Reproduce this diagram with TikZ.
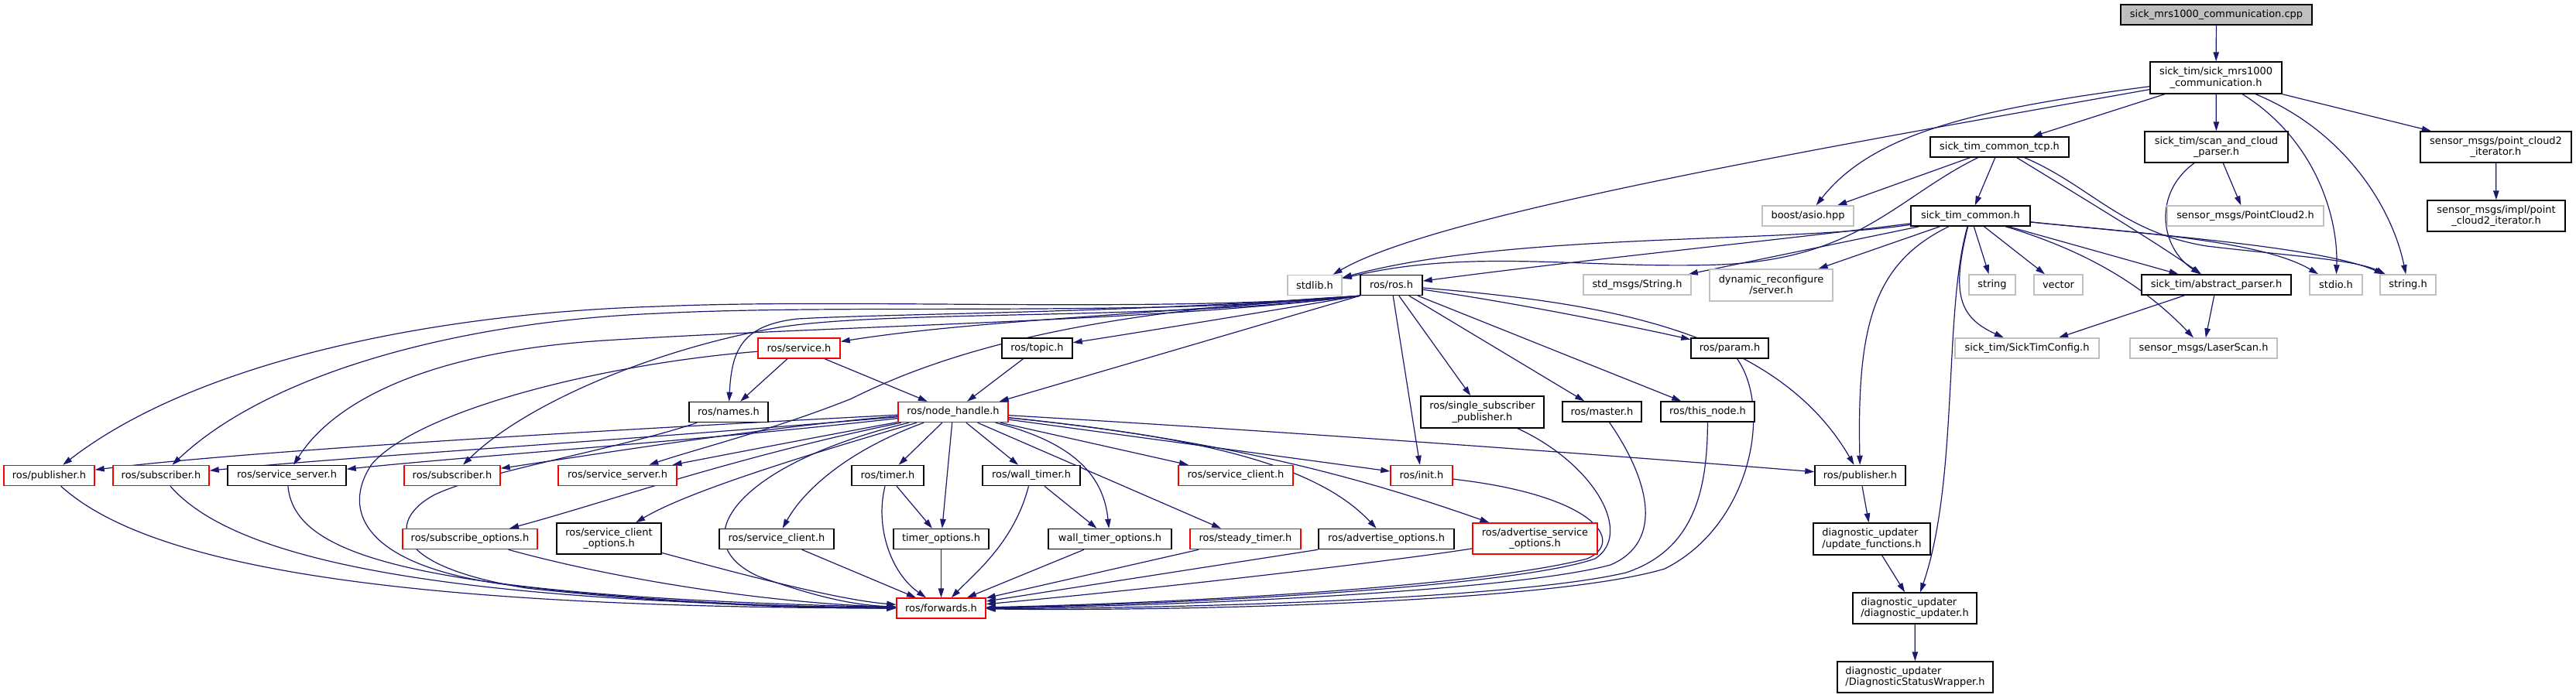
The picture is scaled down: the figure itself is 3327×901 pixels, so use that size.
\documentclass[tikz,border=0pt]{standalone}
\usepackage{fontspec}
\setmainfont{DejaVu Sans}
\usetikzlibrary{arrows.meta,calc}
\definecolor{eb}{HTML}{191970}
\definecolor{gb}{HTML}{BFBFBF}
\pgfdeclarelayer{back}
\pgfdeclarelayer{bg}
\pgfsetlayers{back,bg,main}
\tikzset{
 nd/.style={draw=black, fill=white, line width=1.1pt, inner sep=0pt, align=center},
 rd/.style={nd, draw=red},
 gd/.style={nd, draw=gb},
 sz/.style 2 args={minimum width=#1*0.75pt, minimum height=#2*0.75pt},
 ed/.style={draw=eb, line width=0.9pt, -{Triangle[length=9pt,width=5.6pt]}},
}
\begin{document}
\begin{tikzpicture}[x=0.75pt,y=-0.75pt,font=\fontsize{9.7}{10.7}\selectfont]
\useasboundingbox (0,0) rectangle (3327,901);
\begin{pgfonlayer}{back}
\fill[white] (0,0) rectangle (3327,901);
\end{pgfonlayer}
% nodes
\node[nd,fill=gb,sz={247}{26}] (cpp) at (2862.5,19) {sick\_mrs1000\_communication.cpp};
\node[nd,sz={170}{41}] (comm) at (2862,100.5) {sick\_tim/sick\_mrs1000\\\_communication.h};
\node[nd,sz={179}{26}] (tcp) at (2582.5,190) {sick\_tim\_common\_tcp.h};
\node[nd,sz={185}{40}] (scan) at (2862.5,190) {sick\_tim/scan\_and\_cloud\\\_parser.h};
\node[nd,sz={195}{40}] (pcit) at (3223.5,190) {sensor\_msgs/point\_cloud2\\\_iterator.h};
\node[gd,sz={118}{26}] (asio) at (2335,279) {boost/asio.hpp};
\node[nd,sz={154}{26}] (common) at (2545,279) {sick\_tim\_common.h};
\node[gd,sz={202}{26}] (pc2) at (2900,279) {sensor\_msgs/PointCloud2.h};
\node[nd,sz={178}{40}] (pcimpl) at (3224,279) {sensor\_msgs/impl/point\\\_cloud2\_iterator.h};
\node[gd,sz={139}{26}] (stdmsg) at (2114.5,368) {std\_msgs/String.h};
\node[gd,sz={159}{41}] (dynrec) at (2287.5,368.5) {dynamic\_reconfigure\\/server.h};
\node[gd,sz={60}{26}] (str) at (2573,368) {string};
\node[gd,sz={63}{26}] (vec) at (2658.5,368) {vector};
\node[nd,sz={193}{26}] (abspar) at (2862.5,368) {sick\_tim/abstract\_parser.h};
\node[gd,sz={68}{26}] (stdio) at (3017,368) {stdio.h};
\node[gd,sz={72}{26}] (strh) at (3110,368) {string.h};
\node[nd,sz={100}{26}] (param) at (2234,450) {ros/param.h};
\node[gd,sz={186}{26}] (cfg) at (2618,450) {sick\_tim/SickTimConfig.h};
\node[gd,sz={190}{26}] (laser) at (2846,450) {sensor\_msgs/LaserScan.h};
\node[gd,sz={70}{26}] (stdlib) at (1698,368.5) {stdlib.h};
\node[nd,sz={80}{26}] (ros) at (1797,368.5) {ros/ros.h};
\node[rd,sz={106}{26}] (service) at (1032,450) {ros/service.h};
\node[nd,sz={91}{26}] (topic) at (1339.5,450) {ros/topic.h};
\node[nd,sz={102}{26}] (names) at (941,532.5) {ros/names.h};
\node[rd,sz={142}{26}] (nh) at (1231,532.5) {ros/node\_handle.h};
\node[nd,sz={159}{41}] (ssp) at (1914.5,532.5) {ros/single\_subscriber\\\_publisher.h};
\node[nd,sz={102}{26}] (master) at (2069,532) {ros/master.h};
\node[nd,sz={121}{26}] (thisnode) at (2205.5,532) {ros/this\_node.h};
\node[rd,sz={117}{26}] (publ) at (63.5,614.5) {ros/publisher.h};
\node[rd,sz={124}{26}] (subl) at (208,614.5) {ros/subscriber.h};
\node[nd,sz={153}{26}] (ssl) at (370.5,614.5) {ros/service\_server.h};
\node[rd,sz={124}{26}] (subm) at (584,614.5) {ros/subscriber.h};
\node[rd,sz={153}{26}] (ssm) at (797.5,614.5) {ros/service\_server.h};
\node[rd,sz={174}{26}] (subopt) at (607,696.5) {ros/subscribe\_options.h};
\node[nd,sz={135}{40}] (scopt) at (786.5,696) {ros/service\_client\\\_options.h};
\node[nd,sz={148}{26}] (scl) at (1003,696.5) {ros/service\_client.h};
\node[nd,sz={93}{26}] (timer) at (1146.5,614.5) {ros/timer.h};
\node[nd,sz={126}{26}] (wtimer) at (1332,614.5) {ros/wall\_timer.h};
\node[rd,sz={148}{26}] (scr) at (1596,614.5) {ros/service\_client.h};
\node[rd,sz={80}{26}] (init) at (1836,614.5) {ros/init.h};
\node[nd,sz={123}{26}] (topt) at (1215.5,696.5) {timer\_options.h};
\node[nd,sz={159}{26}] (wtopt) at (1433.5,696.5) {wall\_timer\_options.h};
\node[rd,sz={143}{26}] (steady) at (1608.5,696.5) {ros/steady\_timer.h};
\node[nd,sz={175}{26}] (advopt) at (1790.5,696.5) {ros/advertise\_options.h};
\node[rd,sz={161}{40}] (advsopt) at (1982.5,696) {ros/advertise\_service\\\_options.h};
\node[rd,sz={115}{26}] (fwd) at (1215.5,786) {ros/forwards.h};
\node[nd,sz={117}{26}] (pubr) at (2402.5,614.5) {ros/publisher.h};
\node[nd,sz={151}{41},align=left] (updfn) at (2417.5,696.5) {diagnostic\_updater\\/update\_functions.h};
\node[nd,sz={160}{40},align=left] (diag) at (2473,786) {diagnostic\_updater\\/diagnostic\_updater.h};
\node[nd,sz={201}{40},align=left] (dsw) at (2473.5,875) {diagnostic\_updater\\/DiagnosticStatusWrapper.h};
% edges
\begin{pgfonlayer}{bg}
\draw[ed] (cpp) -- (comm);
\draw[ed] (comm) -- (tcp);
\draw[ed] (comm) -- (scan);
\draw[ed] (comm) -- (pcit);
\draw[ed] (comm) .. controls (2560,140) and (2420,170) .. (asio);
\draw[ed] (comm) .. controls (2300,200) and (1850,280) .. (stdlib);
\draw[ed] (comm) .. controls (2990,180) and (3020,280) .. (stdio);
\draw[ed] (comm) .. controls (3030,170) and (3090,270) .. (strh);
\draw[ed] (tcp) -- (asio);
\draw[ed] (tcp) -- (common);
\draw[ed] (tcp) .. controls (2450,255) and (2400,335) .. (2220,342) .. controls (2050,348) and (1900,320) .. (stdlib);
\draw[ed] (tcp) .. controls (2680,250) and (2780,310) .. (abspar);
\draw[ed] (tcp) .. controls (2700,240) and (2740,300) .. (2850,318) .. controls (2950,330) and (3040,335) .. (strh);
\draw[ed] (scan) .. controls (2780,250) and (2790,320) .. (abspar);
\draw[ed] (scan) -- (pc2);
\draw[ed] (pcit) -- (pcimpl);
\draw[ed] (common) .. controls (2300,315) and (1950,300) .. (stdlib);
\draw[ed] (common) .. controls (2300,310) and (2050,335) .. (ros);
\draw[ed] (common) -- (stdmsg);
\draw[ed] (common) -- (dynrec);
\draw[ed] (common) -- (str);
\draw[ed] (common) -- (vec);
\draw[ed] (common) -- (abspar);
\draw[ed] (common) .. controls (2750,300) and (2920,310) .. (stdio);
\draw[ed] (common) .. controls (2800,305) and (3000,320) .. (strh);
\draw[ed] (common) .. controls (2520,380) and (2530,410) .. (cfg);
\draw[ed] (common) .. controls (2680,320) and (2760,360) .. (laser);
\draw[ed] (common) .. controls (2420,340) and (2398,420) .. (pubr);
\draw[ed] (common) .. controls (2510,400) and (2530,620) .. (diag);
\draw[ed] (abspar) -- (cfg);
\draw[ed] (abspar) -- (laser);
% ros/ros.h
\draw[ed] (ros.south west) .. controls (1500,405) and (1100,385) .. (850,396) .. controls (550,405) and (250,470) .. (publ);
\draw[ed] (ros.south west) .. controls (1500,410) and (1100,392) .. (850,405) .. controls (600,415) and (350,480) .. (subl);
\draw[ed] (ros.south west) .. controls (1500,415) and (1100,420) .. (780,440) .. controls (550,455) and (430,520) .. (ssl);
\draw[ed] (ros.south west) .. controls (1500,415) and (1150,400) .. (1006,423) .. controls (850,450) and (680,520) .. (subm);
\draw[ed] (ros.south west) .. controls (1450,400) and (1250,440) .. (1100,515) .. controls (1000,555) and (900,580) .. (ssm);
\draw[ed] (ros.south west) .. controls (1450,405) and (1150,405) .. (1030,412) .. controls (960,420) and (945,450) .. (names);
\draw[ed] (ros.south west) .. controls (1500,405) and (1250,415) .. (service);
\draw[ed] (ros.south west) .. controls (1650,400) and (1500,425) .. (topic);
\draw[ed] (ros.south west) -- ($(nh.north east)+(-12,0)$);
\draw[ed] (ros) -- (ssp);
\draw[ed] (ros) -- (master);
\draw[ed] (ros) -- (thisnode);
\draw[ed] (ros) .. controls (1950,390) and (2100,420) .. (param);
\draw[ed] (ros) .. controls (2050,390) and (2290,420) .. (pubr);
\draw[ed] (ros) -- (init);
% service, topic, names
\draw[ed] (service) -- (names);
\draw[ed] (service) -- (nh);
\draw[ed] (service) .. controls (780,470) and (540,530) .. (480,600) .. controls (440,660) and (470,730) .. (650,755) .. controls (850,780) and (1050,785) .. (fwd);
\draw[ed] (topic) -- (nh);
\draw[ed] (names) .. controls (800,580) and (620,610) .. (560,640) .. controls (505,670) and (495,730) .. (680,760) .. controls (880,782) and (1050,786) .. (fwd);
% node_handle
\draw[ed] (nh) .. controls (700,560) and (300,585) .. (publ);
\draw[ed] (nh) .. controls (800,570) and (450,590) .. (subl);
\draw[ed] (nh) .. controls (900,570) and (600,590) .. (ssl);
\draw[ed] (nh) .. controls (1000,550) and (750,590) .. (subm);
\draw[ed] (nh) .. controls (1080,560) and (950,585) .. (ssm);
\draw[ed] (nh) .. controls (950,590) and (780,650) .. (subopt);
\draw[ed] (nh) .. controls (1000,600) and (880,640) .. (scopt);
\draw[ed] (nh) .. controls (1100,580) and (1040,630) .. (scl);
\draw[ed] (nh) .. controls (950,600) and (880,700) .. (980,745) .. controls (1050,770) and (1100,782) .. (fwd);
\draw[ed] (nh) -- (timer);
\draw[ed] (nh) -- (topt);
\draw[ed] (nh) -- (wtimer);
\draw[ed] (nh) .. controls (1380,570) and (1425,610) .. (wtopt);
\draw[ed] (nh) -- (steady);
\draw[ed] (nh) -- (scr);
\draw[ed] (nh) -- (init);
\draw[ed] (nh) .. controls (1550,565) and (1700,600) .. (advopt);
\draw[ed] (nh) .. controls (1600,570) and (1780,625) .. (advsopt);
\draw[ed] (nh) .. controls (1700,560) and (2100,590) .. (pubr);
% into forwards
\draw[ed] (timer) -- (topt);
\draw[ed] (timer) .. controls (1130,680) and (1150,740) .. (fwd);
\draw[ed] (wtimer) -- (wtopt);
\draw[ed] (wtimer) .. controls (1310,700) and (1260,740) .. (fwd);
\draw[ed] (topt) -- (fwd);
\draw[ed] (wtopt) -- (fwd);
\draw[ed] (steady) -- (fwd);
\draw[ed] (advopt) -- (fwd);
\draw[ed] (advsopt) .. controls (1800,725) and (1500,760) .. (fwd);
\draw[ed] (scl) -- (fwd);
\draw[ed] (scopt) .. controls (950,740) and (1080,775) .. (fwd);
\draw[ed] (subopt) .. controls (800,750) and (1000,780) .. (fwd);
\draw[ed] (publ) .. controls (180,720) and (450,785) .. (fwd);
\draw[ed] (subl) .. controls (300,720) and (550,778) .. (fwd);
\draw[ed] (ssl) .. controls (380,710) and (500,770) .. (fwd);
\draw[ed] (init) .. controls (2060,640) and (2100,700) .. (2050,722) .. controls (1900,760) and (1500,780) .. (fwd);
\draw[ed] (ssp) .. controls (2060,600) and (2110,690) .. (2060,722) .. controls (1950,760) and (1500,782) .. (fwd);
\draw[ed] (master) .. controls (2130,620) and (2150,700) .. (2080,730) .. controls (1950,765) and (1500,784) .. (fwd);
\draw[ed] (thisnode) .. controls (2205,630) and (2190,710) .. (2100,740) .. controls (1950,775) and (1500,787) .. (fwd);
\draw[ed] (param) .. controls (2290,530) and (2260,680) .. (2150,735) .. controls (2000,780) and (1500,790) .. (fwd);
% diagnostic chain
\draw[ed] (pubr) -- (updfn);
\draw[ed] (updfn) -- (diag);
\draw[ed] (diag) -- (dsw);
\end{pgfonlayer}
\end{tikzpicture}
\end{document}
